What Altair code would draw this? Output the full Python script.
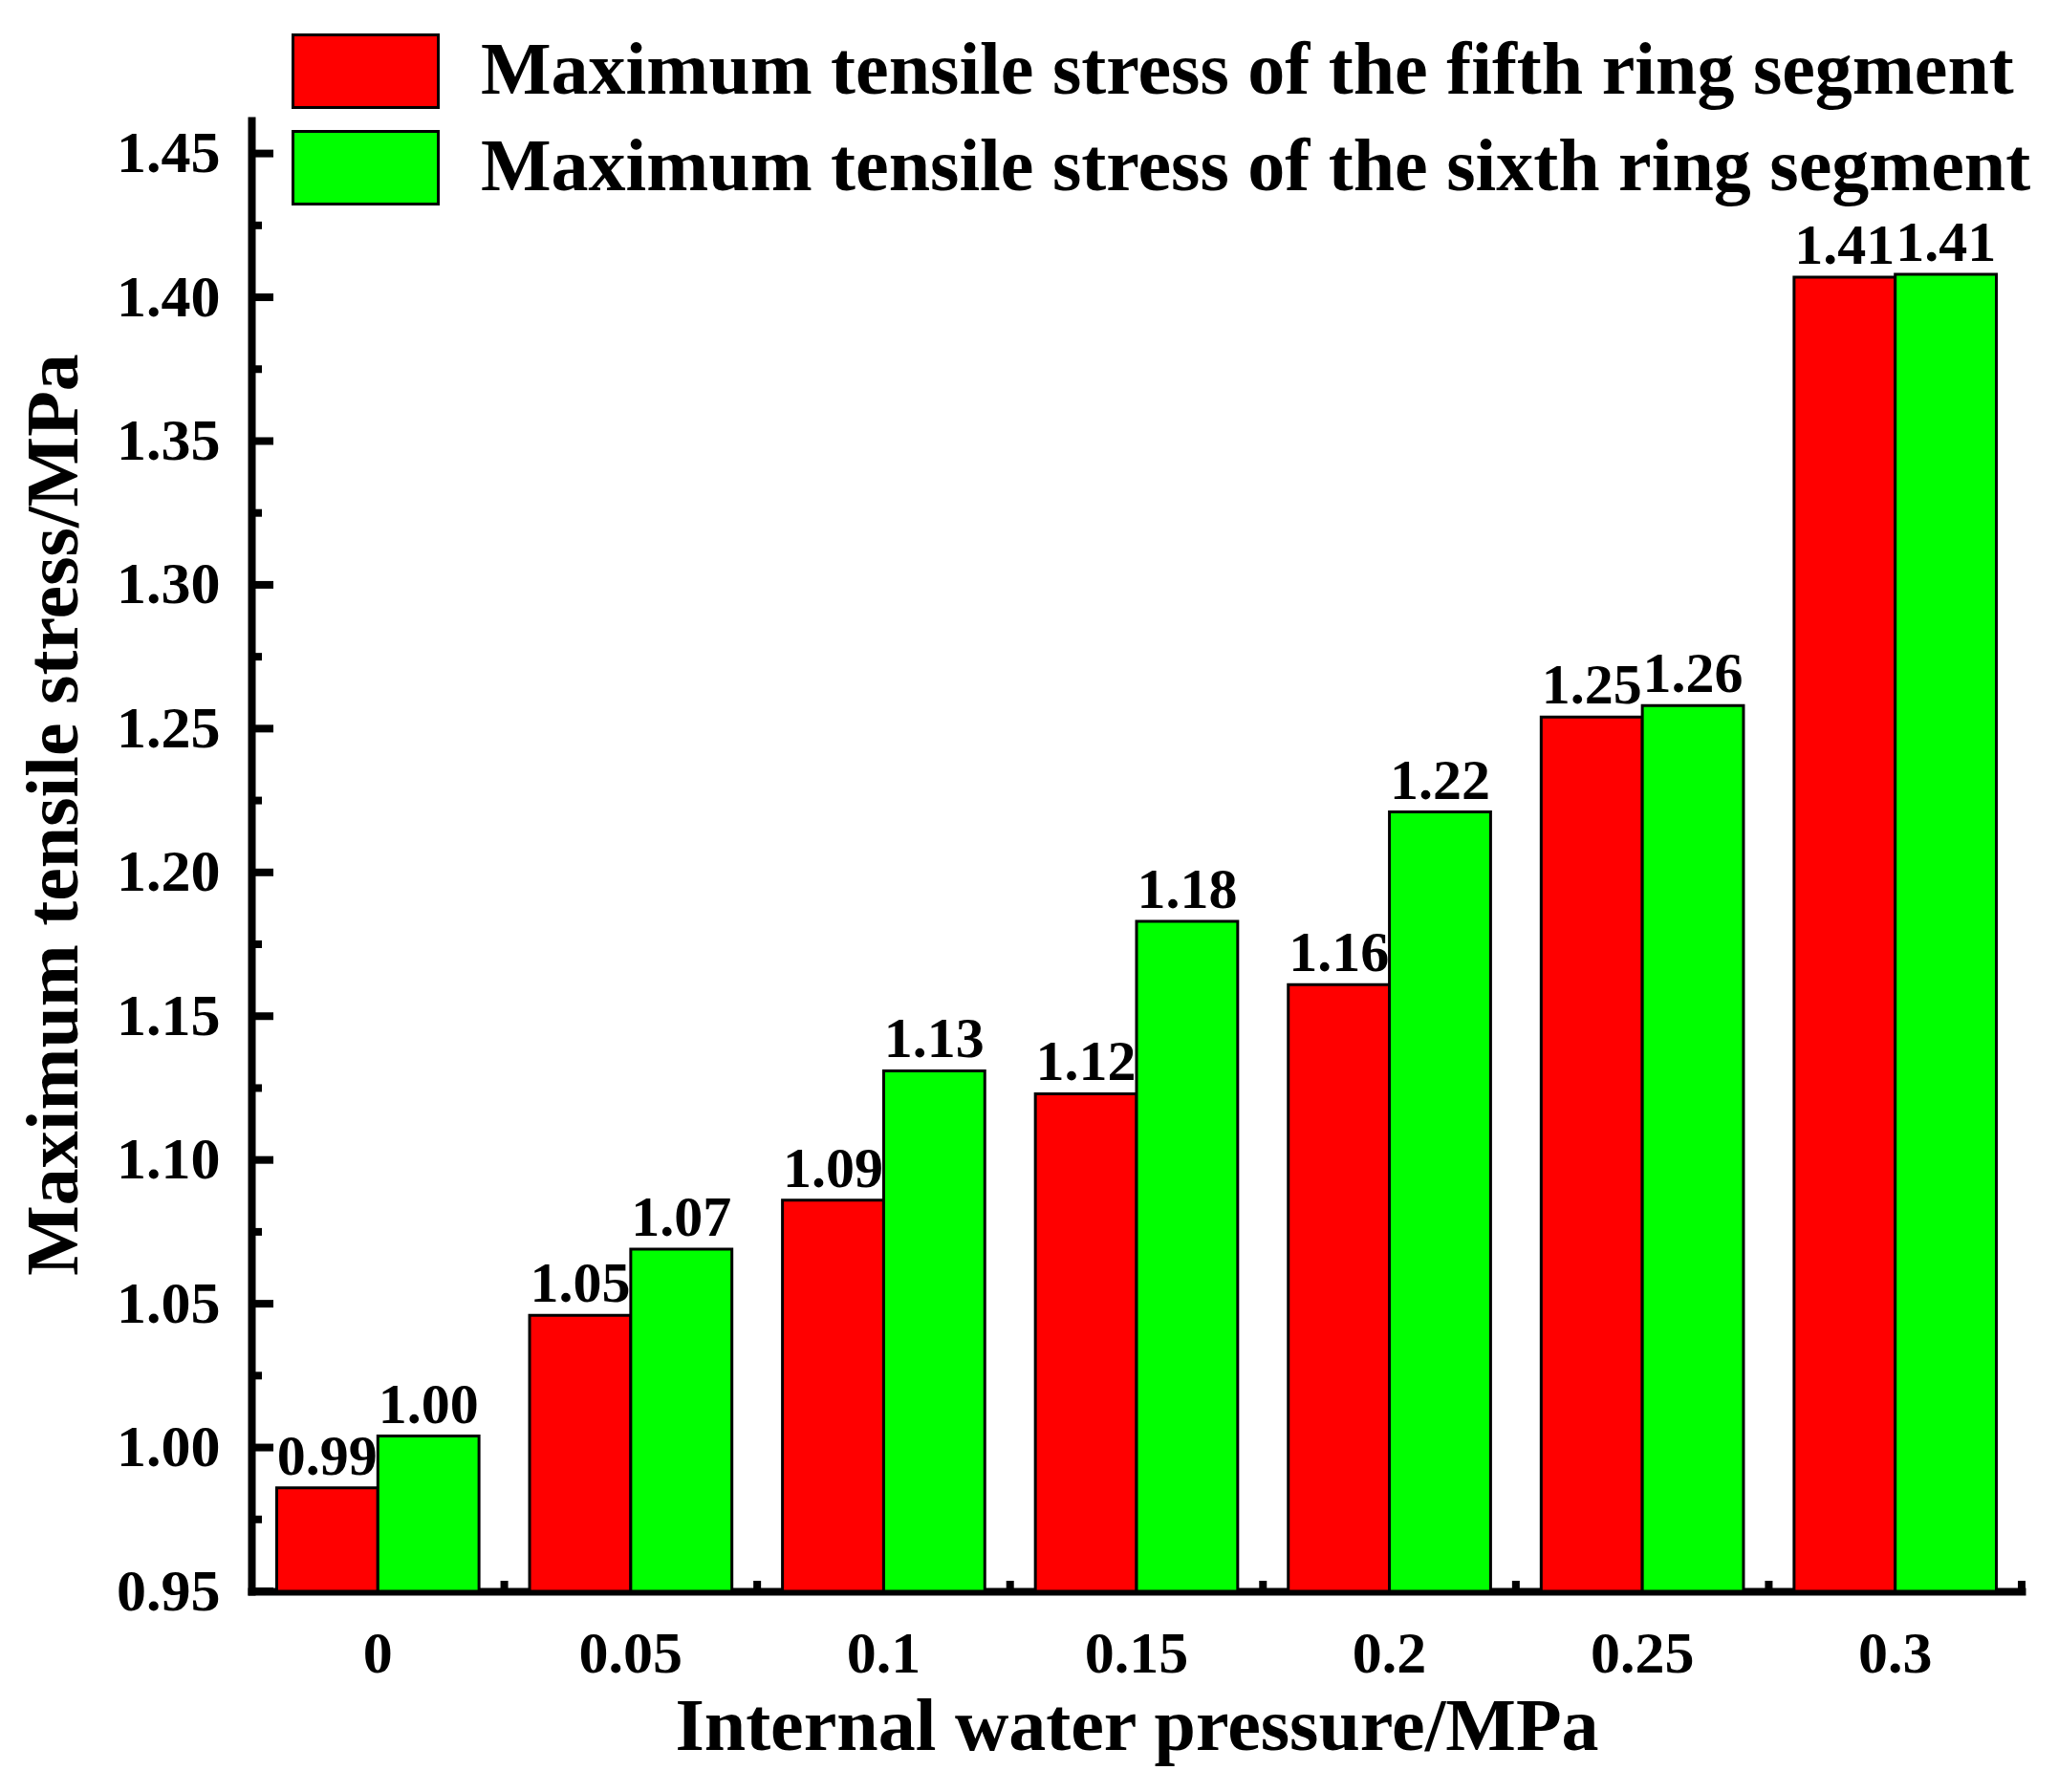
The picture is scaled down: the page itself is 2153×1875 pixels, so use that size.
import altair as alt
import pandas as pd

categories = ["0", "0.05", "0.1", "0.15", "0.2", "0.25", "0.3"]
series = [
    "Maximum tensile stress of the fifth ring segment",
    "Maximum tensile stress of the sixth ring segment",
]
fifth = [0.986, 1.046, 1.086, 1.123, 1.161, 1.254, 1.407]
sixth = [1.004, 1.069, 1.131, 1.183, 1.221, 1.258, 1.408]
colors = ["#FF0000", "#00FF00"]
y_major = [0.95, 1.00, 1.05, 1.10, 1.15, 1.20, 1.25, 1.30, 1.35, 1.40, 1.45]
y_minor = [0.975, 1.025, 1.075, 1.125, 1.175, 1.225, 1.275, 1.325, 1.375, 1.425]
y_domain = [0.95, 1.4615]

FONT = "Liberation Serif"
W, H = 1852, 1539
STEP = W / len(categories)

rows = []
for c, a, b in zip(categories, fifth, sixth):
    rows.append({"cat": c, "series": series[0], "value": a})
    rows.append({"cat": c, "series": series[1], "value": b})
df = pd.DataFrame(rows)

x_axis = alt.Axis(
    title="Internal water pressure/MPa",
    labelAngle=0,
    ticks=False,
    tickSize=0,
    labelPadding=35,
    domainWidth=8,
    domainColor="black",
    domainCap="square",
    labelFont=FONT,
    labelFontSize=62,
    labelFontWeight="bold",
    labelColor="black",
    titleFont=FONT,
    titleFontSize=78,
    titleFontWeight="bold",
    titleColor="black",
    titleY=165,
    titleBaseline="alphabetic",
    grid=False,
)

y_axis = alt.Axis(
    title="Maximum tensile stress/MPa",
    values=y_major,
    format=".2f",
    ticks=False,
    tickSize=0,
    labelPadding=33,
    domainWidth=8,
    domainColor="black",
    domainCap="square",
    labelFont=FONT,
    labelFontSize=62,
    labelFontWeight="bold",
    labelColor="black",
    titleFont=FONT,
    titleFontSize=78,
    titleFontWeight="bold",
    titleColor="black",
    titleX=-183,
    titleY=726,
    titleBaseline="alphabetic",
    titleAngle=270,
    grid=False,
)

x_scale = alt.Scale(paddingInner=0.2, paddingOuter=0.1)
y_scale = alt.Scale(domain=y_domain, zero=False, nice=False)

x_enc = alt.X("cat:N", sort=categories, scale=x_scale, axis=x_axis)
y_enc = alt.Y("value:Q", scale=y_scale, axis=y_axis)

xoff = alt.XOffset("series:N", sort=series, scale=alt.Scale(paddingInner=0, paddingOuter=0))

base = alt.Chart(df).encode(x=x_enc, xOffset=xoff, y=y_enc)

bars = base.mark_bar(stroke="black", strokeWidth=3).encode(
    y2=alt.datum(0.95),
    color=alt.Color(
        "series:N",
        sort=series,
        scale=alt.Scale(domain=series, range=colors),
        legend=alt.Legend(
            title=None,
            orient="none",
            legendX=80,
            legendY=-91,
            symbolType="M-2,-1H2V1H-2Z",
            symbolSize=5776,
            symbolStrokeColor="black",
            symbolStrokeWidth=3,
            symbolOpacity=1,
            labelFont=FONT,
            labelFontSize=78,
            labelFontWeight="bold",
            labelColor="black",
            labelOffset=81,
            labelLimit=3000,
            rowPadding=12,
            padding=0,
        ),
    ),
)

labels = base.mark_text(
    font=FONT, fontSize=60, fontWeight="bold", baseline="alphabetic", dy=-14, color="black"
).encode(text=alt.Text("value:Q", format=".2f"))

ymaj = alt.Chart(pd.DataFrame({"value": y_major})).mark_rule(color="black", strokeWidth=8).encode(
    y=alt.Y("value:Q", scale=y_scale, axis=y_axis), x=alt.value(0), x2=alt.value(23)
)
ymin = alt.Chart(pd.DataFrame({"value": y_minor})).mark_rule(color="black", strokeWidth=8).encode(
    y=alt.Y("value:Q", scale=y_scale, axis=y_axis), x=alt.value(0), x2=alt.value(11)
)
xt = alt.Chart(pd.DataFrame({"cat": categories})).mark_rule(color="black", strokeWidth=8).encode(
    x=alt.X("cat:N", sort=categories, scale=x_scale, axis=x_axis, bandPosition=0),
    xOffset=alt.value(0.9 * STEP),
    y=alt.value(H),
    y2=alt.value(H - 11),
)

chart = (
    alt.layer(bars, labels, ymaj, ymin, xt)
    .properties(
        width=W,
        height=H,
        padding={"left": 255, "top": 118, "right": 30, "bottom": 200},
        autosize="none",
        background="white",
    )
    .configure_view(stroke="transparent")
)

chart.save("out.html", embed_options={"renderer": "svg", "actions": False})
